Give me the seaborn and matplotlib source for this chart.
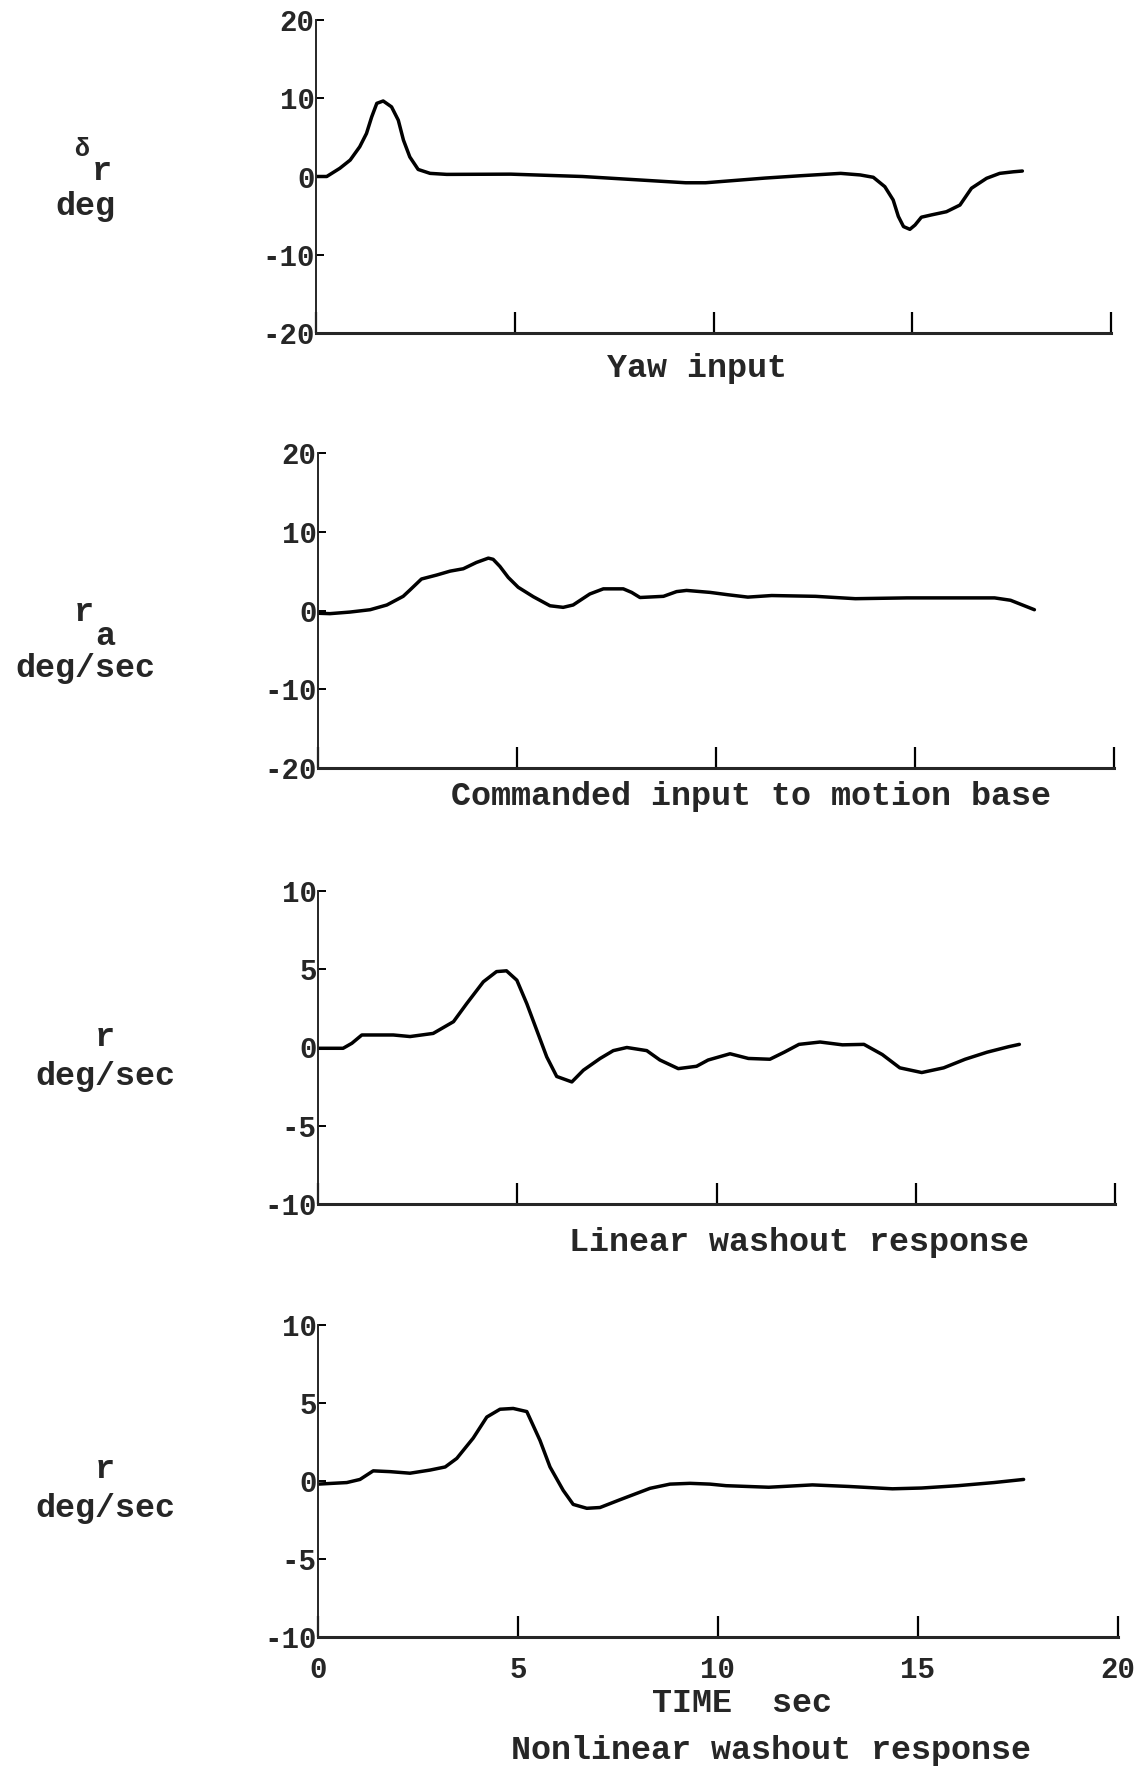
import numpy as np
import pandas as pd
import matplotlib
matplotlib.use("Agg")
import matplotlib.pyplot as plt
import seaborn as sns

sns.set_style("ticks")
plt.rcParams['font.family'] = ['Liberation Mono', 'DejaVu Sans Mono']
plt.rcParams['font.weight'] = 'bold'
plt.rcParams['axes.unicode_minus'] = False

# ---- data ----
yaw_t = [0.0, 0.27, 0.6, 0.86, 1.1, 1.27, 1.4, 1.53, 1.69, 1.9, 2.07, 2.2, 2.36, 2.57,
         2.87, 3.29, 4.9, 6.7, 8.0, 9.3, 9.8, 11.3, 12.2, 13.2, 13.69, 14.02, 14.31,
         14.52, 14.65, 14.78, 14.94, 15.07, 15.23, 15.49, 15.86, 16.2, 16.49, 16.87,
         17.2, 17.54, 17.77]
yaw_v = [0.0, 0.0, 1.05, 2.1, 3.8, 5.5, 7.6, 9.35, 9.65, 8.9, 7.2, 4.65, 2.5, 0.9,
         0.4, 0.27, 0.3, 0.0, -0.4, -0.8, -0.8, -0.2, 0.1, 0.4, 0.2, -0.1, -1.3,
         -3.0, -5.1, -6.4, -6.75, -6.2, -5.2, -4.9, -4.5, -3.65, -1.5, -0.23,
         0.4, 0.6, 0.7]

cmd_t = [0.0, 0.3, 0.8, 1.31, 1.73, 2.14, 2.31, 2.6, 2.98, 3.32, 3.65, 3.98, 4.28, 4.4,
         4.57, 4.78, 5.03, 5.41, 5.83, 6.16, 6.41, 6.83, 7.17, 7.67, 7.88, 8.09, 8.68,
         9.01, 9.26, 9.85, 10.3, 10.8, 11.4, 12.5, 13.5, 14.8, 15.7, 17.0, 17.4, 17.7,
         18.0]
cmd_v = [-0.35, -0.4, -0.2, 0.1, 0.7, 1.8, 2.6, 4.0, 4.5, 5.0, 5.3, 6.1, 6.65, 6.5,
         5.6, 4.2, 2.95, 1.75, 0.6, 0.4, 0.7, 2.1, 2.75, 2.75, 2.3, 1.65, 1.8,
         2.4, 2.55, 2.3, 2.0, 1.7, 1.9, 1.8, 1.5, 1.6, 1.6, 1.6, 1.3, 0.7,
         0.1]

lin_t = [0.0, 0.63, 0.85, 1.1, 1.47, 1.89, 2.31, 2.89, 3.4, 3.73, 4.15, 4.48, 4.73, 4.99,
         5.24, 5.49, 5.74, 5.99, 6.37, 6.66, 7.08, 7.41, 7.75, 8.25, 8.58, 9.04, 9.5,
         9.79, 10.34, 10.8, 11.34, 11.7, 12.07, 12.6, 13.16, 13.7, 14.16, 14.6,
         15.15, 15.7, 16.24, 16.79, 17.33, 17.6]
lin_v = [-0.05, -0.05, 0.27, 0.8, 0.8, 0.8, 0.7, 0.9, 1.65, 2.8, 4.2, 4.85, 4.9, 4.3,
         2.8, 1.1, -0.6, -1.85, -2.2, -1.45, -0.7, -0.2, 0.0, -0.2, -0.8, -1.35, -1.2,
         -0.8, -0.4, -0.7, -0.75, -0.3, 0.2, 0.35, 0.17, 0.2, -0.45, -1.3,
         -1.6, -1.3, -0.75, -0.3, 0.05, 0.2]

non_t = [0.0, 0.72, 1.05, 1.38, 1.8, 2.3, 2.8, 3.18, 3.47, 3.88, 4.22, 4.55, 4.88, 5.22,
         5.55, 5.8, 6.13, 6.38, 6.72, 7.05, 7.55, 8.3, 8.8, 9.3, 9.8, 10.2, 11.27,
         12.36, 13.27, 14.36, 15.09, 16.0, 16.9, 17.64]
non_v = [-0.2, -0.1, 0.1, 0.65, 0.6, 0.5, 0.7, 0.9, 1.45, 2.75, 4.1, 4.6, 4.65, 4.45,
         2.6, 0.9, -0.6, -1.5, -1.75, -1.7, -1.2, -0.47, -0.2, -0.15, -0.2, -0.3, -0.4,
         -0.25, -0.35, -0.5, -0.45, -0.3, -0.1, 0.1]

x_ticks = [0, 5, 10, 15, 20]
x_ticklabels = ["0", "5", "10", "15", "20"]
yticks_20 = [-20, -10, 0, 10, 20]
ylabels_20 = ["-20", "-10", "0", "10", "20"]
yticks_10 = [-10, -5, 0, 5, 10]
ylabels_10 = ["-10", "-5", "0", "5", "10"]

captions = ["Yaw input", "Commanded input to motion base",
            "Linear washout response", "Nonlinear washout response"]
xlabel_text = "TIME  sec"

# ---- figure ----
W, H = 1138, 1771
fig = plt.figure(figsize=(W / 100, H / 100), dpi=100)
fig.patch.set_facecolor("white")

def frac_rect(left_px, right_px, top_px, bottom_px):
    return [left_px / W, 1 - bottom_px / H, (right_px - left_px) / W, (bottom_px - top_px) / H]

panels = [
    (yaw_t, yaw_v, yticks_20, ylabels_20, frac_rect(316, 1111, 20, 333)),
    (cmd_t, cmd_v, yticks_20, ylabels_20, frac_rect(318, 1114, 453, 768)),
    (lin_t, lin_v, yticks_10, ylabels_10, frac_rect(318, 1115, 891, 1204)),
    (non_t, non_v, yticks_10, ylabels_10, frac_rect(318, 1118, 1325, 1637)),
]

tick_fs = 21
for i, (t, v, yt, yl, rect) in enumerate(panels):
    ax = fig.add_axes(rect)
    df = pd.DataFrame({"t": t, "v": v})
    sns.lineplot(data=df, x="t", y="v", ax=ax, color="black", linewidth=2.5,
                 estimator=None, sort=False)
    ax.set_xlim(0, 20)
    ax.set_ylim(yt[0], yt[-1])
    ax.set_xticks(x_ticks)
    ax.set_yticks(yt)
    ax.set_yticklabels(yl, fontsize=tick_fs, fontweight="bold")
    if i == 3:
        ax.set_xticklabels(x_ticklabels, fontsize=tick_fs, fontweight="bold")
        ax.tick_params(axis="x", pad=14)
    else:
        ax.set_xticklabels([])
    ax.set_xlabel("")
    ax.set_ylabel("")
    for s in ["top", "right"]:
        ax.spines[s].set_visible(False)
    ax.spines["bottom"].set_linewidth(2.2)
    ax.spines["left"].set_linewidth(1.4)
    ax.tick_params(axis="x", direction="in", length=15, width=1.6, color="black")
    ax.tick_params(axis="y", direction="in", length=6, width=1.4, pad=1, color="black")
    ax.set_facecolor("white")

lab_fs = 24
# y-axis labels
fig.text(82 / W, 1 - 149 / H, "δ", fontsize=18, ha="center", va="center")
fig.text(102 / W, 1 - 172 / H, "r", fontsize=lab_fs, ha="center", va="center")
fig.text(85 / W, 1 - 207 / H, "deg", fontsize=lab_fs, ha="center", va="center")

fig.text(84 / W, 1 - 612 / H, "r", fontsize=lab_fs, ha="center", va="center")
fig.text(105 / W, 1 - 637 / H, "a", fontsize=lab_fs, ha="center", va="center")
fig.text(85 / W, 1 - 668 / H, "deg/sec", fontsize=lab_fs, ha="center", va="center")

fig.text(105 / W, 1 - 1038 / H, "r", fontsize=lab_fs, ha="center", va="center")
fig.text(105 / W, 1 - 1076 / H, "deg/sec", fontsize=lab_fs, ha="center", va="center")

fig.text(105 / W, 1 - 1469 / H, "r", fontsize=lab_fs, ha="center", va="center")
fig.text(105 / W, 1 - 1508 / H, "deg/sec", fontsize=lab_fs, ha="center", va="center")

# captions
cap_pos = [(697, 369), (751, 797), (799, 1242), (771, 1751)]
for txt, (cx, cy) in zip(captions, cap_pos):
    fig.text(cx / W, 1 - cy / H, txt, fontsize=lab_fs, ha="center", va="center")
fig.text(742 / W, 1 - 1703 / H, xlabel_text, fontsize=lab_fs, ha="center", va="center")

fig.savefig("out.png", dpi=100, facecolor="white")
